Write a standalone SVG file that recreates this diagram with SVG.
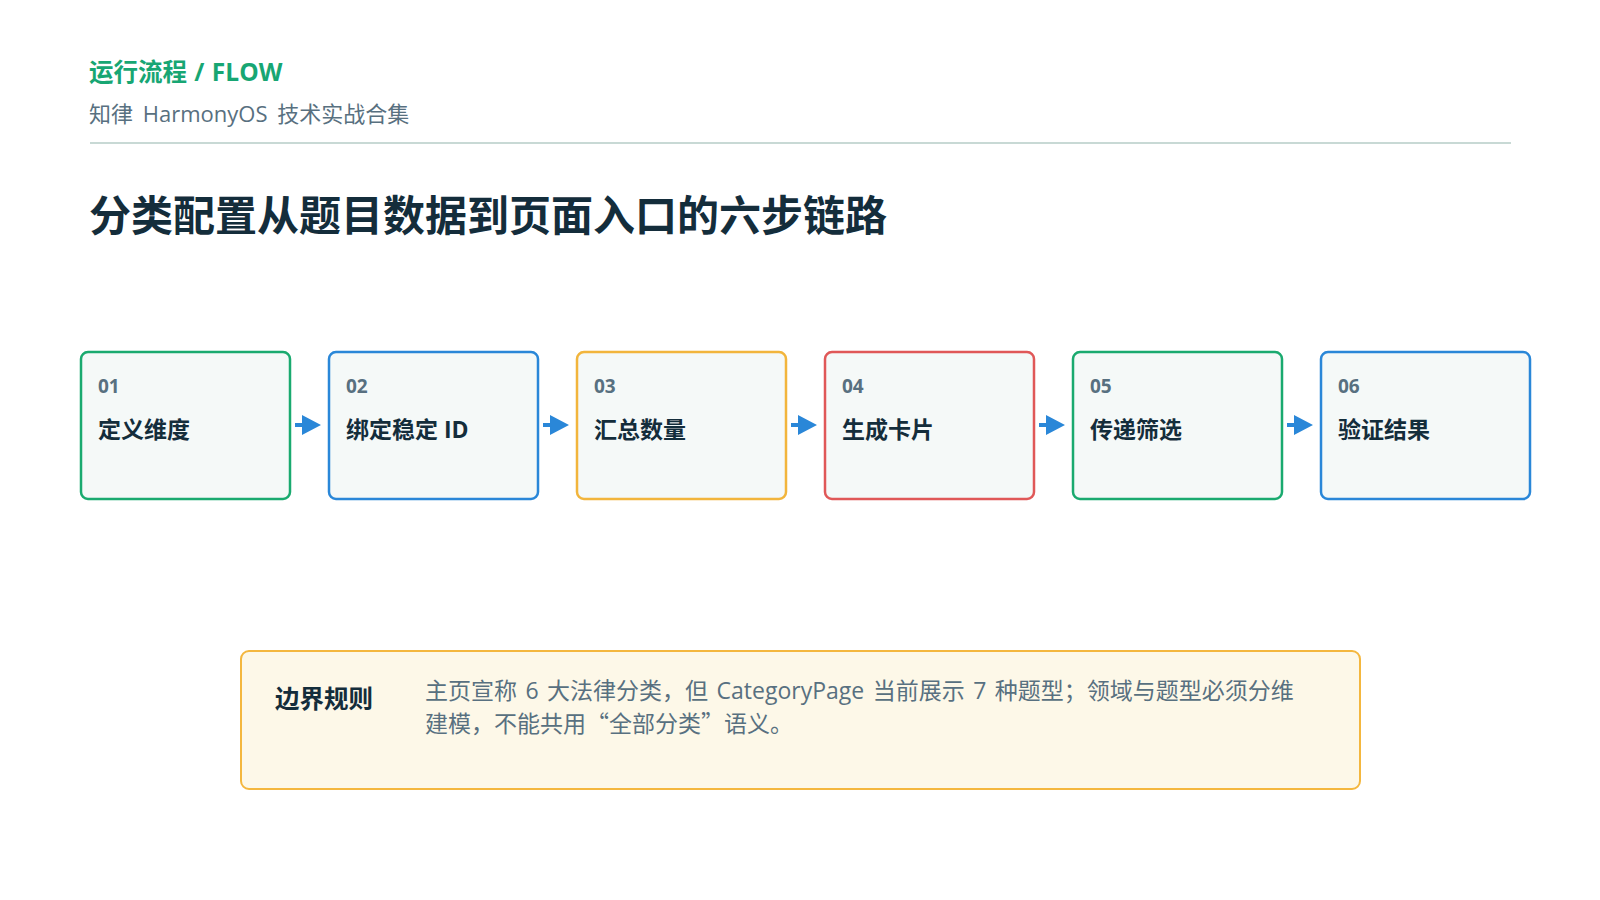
<svg xmlns="http://www.w3.org/2000/svg" width="1600" height="900" viewBox="0 0 1600 900">
<style>
.cjk{font-family:"Open Sans","Noto Sans CJK SC",sans-serif}
.num{font-family:"Open Sans","Noto Sans CJK SC",sans-serif;font-weight:700;font-size:19px;fill:#587080}
.lbl{font-family:"Open Sans","Noto Sans CJK SC",sans-serif;font-weight:700;font-size:23px;fill:#142d3b}
.box{fill:#f5f9f8;stroke-width:2.5}
.arr{fill:#2a87d8}
.q{font-family:"Noto Sans CJK SC",sans-serif}
</style>
<rect width="1600" height="900" fill="#ffffff"/>
<g id="header">
<text x="89" y="81" class="cjk" font-size="24.5" font-weight="700" fill="#17a673" word-spacing="1">运行流程 / FLOW</text>
<text x="89" y="122" class="cjk" font-size="22" fill="#587080" word-spacing="4">知律 HarmonyOS 技术实战合集</text>
<line x1="90" y1="143" x2="1511" y2="143" stroke="#c8d9d5" stroke-width="2"/>
<text x="89" y="231" class="cjk" font-size="42" font-weight="700" fill="#142d3b">分类配置从题目数据到页面入口的六步链路</text>
</g>
<g id="connectors">
<g class="arr">
<path d="M295,423 h7 v-8 l19,10 l-19,10 v-8 h-7 z"/>
<path d="M543,423 h7 v-8 l19,10 l-19,10 v-8 h-7 z"/>
<path d="M791,423 h7 v-8 l19,10 l-19,10 v-8 h-7 z"/>
<path d="M1039,423 h7 v-8 l19,10 l-19,10 v-8 h-7 z"/>
<path d="M1287,423 h7 v-8 l19,10 l-19,10 v-8 h-7 z"/>
</g>
</g>
<g id="step1">
<rect x="81" y="352" width="209" height="147" rx="7" class="box" stroke="#1aaa6f"/>
<text x="98" y="393" class="num">01</text>
<text x="98" y="438" class="lbl">定义维度</text>
</g>
<g id="step2">
<rect x="329" y="352" width="209" height="147" rx="7" class="box" stroke="#2a87d8"/>
<text x="346" y="393" class="num">02</text>
<text x="346" y="438" class="lbl">绑定稳定 ID</text>
</g>
<g id="step3">
<rect x="577" y="352" width="209" height="147" rx="7" class="box" stroke="#f2b53c"/>
<text x="594" y="393" class="num">03</text>
<text x="594" y="438" class="lbl">汇总数量</text>
</g>
<g id="step4">
<rect x="825" y="352" width="209" height="147" rx="7" class="box" stroke="#e05858"/>
<text x="842" y="393" class="num">04</text>
<text x="842" y="438" class="lbl">生成卡片</text>
</g>
<g id="step5">
<rect x="1073" y="352" width="209" height="147" rx="7" class="box" stroke="#1aaa6f"/>
<text x="1090" y="393" class="num">05</text>
<text x="1090" y="438" class="lbl">传递筛选</text>
</g>
<g id="step6">
<rect x="1321" y="352" width="209" height="147" rx="7" class="box" stroke="#2a87d8"/>
<text x="1338" y="393" class="num">06</text>
<text x="1338" y="438" class="lbl">验证结果</text>
</g>
<g id="rule">
<rect x="241" y="651" width="1119" height="138" rx="8" fill="#fdf8e8" stroke="#f4b73e" stroke-width="2"/>
<text x="275" y="708" class="cjk" font-size="24.5" font-weight="700" fill="#142d3b">边界规则</text>
<text x="425" y="699" class="cjk" font-size="23" fill="#587080" word-spacing="2.5">主页宣称 6 大法律分类，但 CategoryPage 当前展示 7 种题型；领域与题型必须分维</text>
<text x="425" y="732" class="cjk" font-size="23" fill="#587080">建模，不能共用<tspan class="q">“</tspan>全部分类<tspan class="q">”</tspan>语义。</text>
</g>
</svg>
